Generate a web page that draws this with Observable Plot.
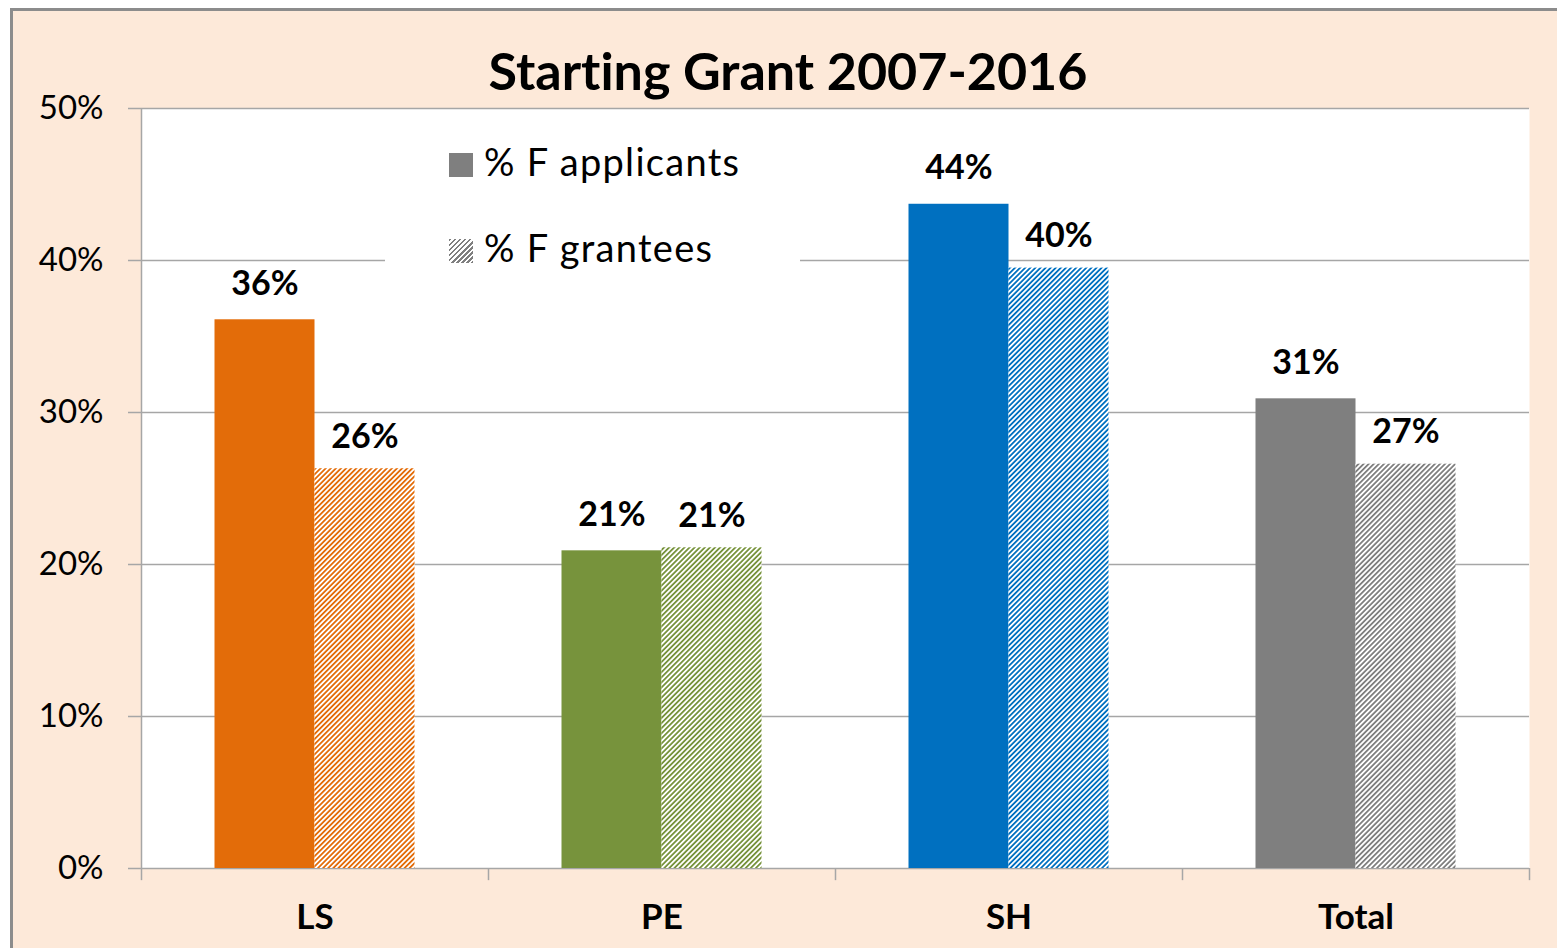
<!DOCTYPE html>
<html>
<head>
<meta charset="utf-8">
<script src="https://cdn.jsdelivr.net/npm/d3@7"></script>
<script src="https://cdn.jsdelivr.net/npm/@observablehq/plot@0.6"></script>
<style>
  html, body { margin: 0; padding: 0; background: #ffffff; }
  #chart {
    position: absolute; left: 10px; top: 8px; width: 1560px; height: 950px;
    background: #FDE9D9; border-left: 3px solid #8c8c8c; border-top: 3px solid #8c8c8c;
    overflow: hidden; font-family: Lato, "Open Sans", sans-serif;
    font-variant-ligatures: none;
  }
  #title {
    position: absolute; left: 0; top: 32px; width: 1550px; text-align: center;
    font-size: 52px; font-weight: bold; color: #000; line-height: 54px;
  }
  #plot { position: absolute; left: 0; top: 0; }
  #plot svg text { font-variant-ligatures: none; }
  #legend {
    position: absolute; left: 372px; top: 114px; width: 415px; height: 155px; background: #ffffff;
  }
  .item { position: absolute; left: 64px; height: 40px; line-height: 40px; font-size: 38px; letter-spacing: 1.3px; color: #000; white-space: nowrap; }
  .sw { display: inline-block; width: 24px; height: 24px; margin-right: 11px; vertical-align: -1px; }
</style>
</head>
<body>
<div id="chart">
  <div id="plot"></div>
  <div id="title">Starting Grant 2007-2016</div>
  <div id="legend"></div>
</div>
<script>
const categories = ["LS", "PE", "SH", "Total"];
const applicants = [36.1, 20.9, 43.7, 30.9];
const grantees = [26.3, 21.1, 39.5, 26.6];
const colors = ["#E36C09", "#77933C", "#0070C0", "#7F7F7F"];
const yTicks = [0, 10, 20, 30, 40, 50];
const seriesNames = ["% F applicants", "% F grantees"];

const rows = categories.map((c, i) => ({
  category: c, app: applicants[i], grant: grantees[i],
  color: colors[i], hatch: `url(#hatch-${i})`
}));

const W = 1544, H = 937, mL = 128, mR = 28, mT = 97, mB = 80;
const step = (W - mL - mR) / categories.length;
const barW = 100;
const outer = (step - 2 * barW) / 2;
const gridColor = "#a6a6a6";

const chart = Plot.plot({
  width: W, height: H,
  marginLeft: mL, marginRight: mR, marginTop: mT, marginBottom: mB,
  style: { fontFamily: "Lato, 'Open Sans', sans-serif", background: "transparent", color: "#000", overflow: "visible" },
  x: { type: "band", domain: categories, padding: 0 },
  y: { domain: [0, 50] },
  color: { type: "identity" },
  marks: [
    Plot.frame({ fill: "white", stroke: "none" }),
    Plot.ruleY(yTicks, { stroke: gridColor, strokeWidth: 1.5, insetLeft: -13 }),
    Plot.ruleX(["LS"], { x: d => d, dx: -step / 2, y1: 0, y2: 50, stroke: gridColor, strokeWidth: 1.5 }),
    Plot.ruleX(categories, { x: d => d, dx: -step / 2, y1: 0, y2: -0.8, stroke: gridColor, strokeWidth: 1.5 }),
    Plot.ruleX(["Total"], { x: d => d, dx: step / 2, y1: 0, y2: -0.8, stroke: gridColor, strokeWidth: 1.5 }),
    Plot.barY(rows, { x: "category", y: "app", fill: "color", insetLeft: outer, insetRight: step - outer - barW }),
    Plot.barY(rows, { x: "category", y: "grant", fill: "hatch", insetLeft: outer + barW, insetRight: outer }),
    Plot.text(rows, { x: "category", y: "app", text: d => Math.round(d.app) + "%", dx: -barW / 2, dy: -36, fontWeight: "bold", fontSize: 34, fill: "#000" }),
    Plot.text(rows, { x: "category", y: "grant", text: d => Math.round(d.grant) + "%", dx: barW / 2, dy: -32, fontWeight: "bold", fontSize: 34, fill: "#000" }),
    Plot.axisY(yTicks, { tickSize: 0, tickPadding: 38, tickFormat: d => d + "%", fontSize: 33, label: null }),
    Plot.axisX({ tickSize: 0, tickPadding: 36, fontSize: 35, fontWeight: "bold", label: null })
  ]
});

// hatch patterns
const defs = d3.select(chart).insert("defs", ":first-child");
colors.forEach((c, i) => {
  const p = defs.append("pattern")
    .attr("id", `hatch-${i}`)
    .attr("patternUnits", "userSpaceOnUse")
    .attr("width", 3.6).attr("height", 3.6)
    .attr("patternTransform", "rotate(45)");
  p.append("rect").attr("width", 3.6).attr("height", 3.6).attr("fill", "#ffffff");
  p.append("rect").attr("width", 1.8).attr("height", 3.6).attr("fill", c);
});

document.getElementById("plot").appendChild(chart);

// legend
const legend = document.getElementById("legend");
const swatches = [
  "background:#7F7F7F;",
  "background:repeating-linear-gradient(135deg, #7F7F7F 0 1.8px, #ffffff 1.8px 3.6px);"
];
seriesNames.forEach((name, i) => {
  const it = document.createElement("div");
  it.className = "item";
  it.style.top = (i === 0 ? 16 : 102) + "px";
  it.innerHTML = `<span class="sw" style="${swatches[i]}"></span>${name}`;
  legend.appendChild(it);
});
</script>
</body>
</html>
